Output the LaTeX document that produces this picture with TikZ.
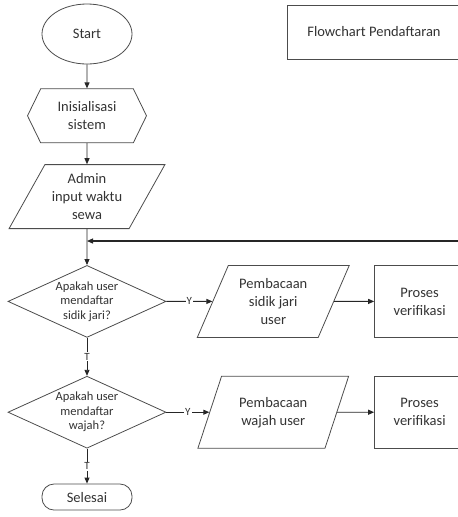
\documentclass[tikz,border=0pt]{standalone}
\usepackage{fontspec}
\setmainfont{Carlito}
\usetikzlibrary{arrows.meta,positioning,shapes.geometric,shapes.symbols}

\begin{document}
\begin{tikzpicture}[
  x=1pt, y=-1pt,
  font=\fontsize{14.5}{18}\selectfont,
  >={Triangle[length=6pt,width=5pt]},
  shp/.style={draw=black!70, line width=0.8pt, text=black!80, align=center, inner sep=0pt},
  term/.style={shp, ellipse, minimum width=90pt, minimum height=60pt},
  prep/.style={shp, signal, signal to=east and west, signal pointer angle=128, minimum width=119pt, minimum height=54pt},
  io/.style={shp, trapezium, trapezium stretches=true, minimum height=64pt},
  dec/.style={shp, diamond, aspect=2.2, minimum width=158pt, minimum height=72pt, font=\fontsize{12.5}{14.5}\selectfont},
  proc/.style={shp, rectangle, minimum width=90pt, minimum height=72pt},
  endbox/.style={shp, rectangle, rounded corners=12pt, minimum width=90pt, minimum height=26pt},
  lbl/.style={fill=white, inner sep=1pt, text=black!80, font=\fontsize{11}{13}\selectfont},
  flow/.style={->, line width=0.9pt, draw=black!85},
]
\clip (0,0) rectangle (458,517);
\node[term] (start) at (87,34) {Start};
\node[prep, below=24pt of start] (init) {Inisialisasi\\sistem};
\node[io, trapezium left angle=57, trapezium right angle=123, minimum width=156pt, below=21pt of init] (admin) {Admin\\input waktu\\sewa};
\node[dec, below=36pt of admin] (askjari) {Apakah user\\mendaftar\\sidik jari?};
\node[dec, below=38pt of askjari] (askwajah) {Apakah user\\mendaftar\\wajah?};
\node[endbox, below=35pt of askwajah] (selesai) {Selesai};
\node[io, trapezium left angle=63, trapezium right angle=117, minimum width=152pt, minimum height=72pt, right=46pt of askjari] (readjari) {Pembacaan\\sidik jari\\user};
\node[proc, right=40pt of readjari] (verjari) {Proses\\verifikasi};
\node[io, trapezium left angle=63, trapezium right angle=117, minimum width=152pt, minimum height=72pt, below=38pt of readjari] (readwajah) {Pembacaan\\wajah user};
\node[proc, below=38pt of verjari] (verwajah) {Proses\\verifikasi};
\node[shp, rectangle, minimum width=174pt, minimum height=54pt] (judul) at (374,32) {Flowchart Pendaftaran};
\coordinate (balik) at (470,241);
% alur utama
\draw[flow] (start) -- (init);
\draw[flow] (init) -- (admin);
\draw[flow] (admin) -- (askjari);
\draw[flow, line width=1.2pt] (balik) -- (admin.south |- balik);
\draw[flow] (askjari) -- node[lbl] {T} (askwajah);
\draw[flow] (askwajah) -- node[lbl] {T} (selesai);
% cabang Y
\draw[flow] (askjari) -- node[lbl] {Y} (readjari);
\draw[flow] (readjari) -- (verjari);
\draw[flow] (askwajah) -- node[lbl] {Y} (askwajah -| readwajah.west);
\draw[flow] (readwajah) -- (verwajah);
\end{tikzpicture}
\end{document}
